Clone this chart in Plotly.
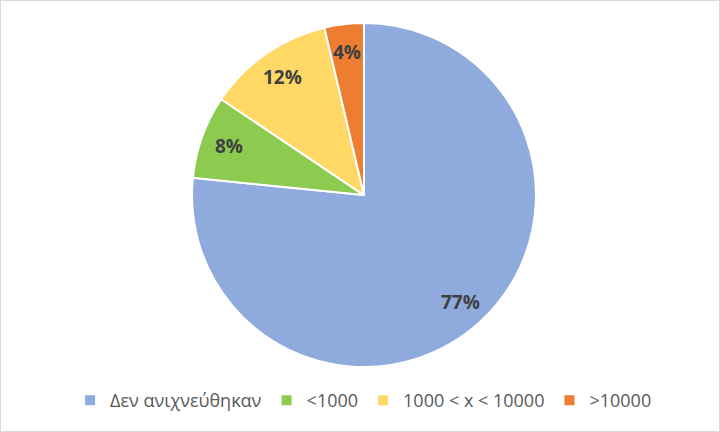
import math
import plotly.graph_objects as go

labels = ["Δεν ανιχνεύθηκαν", "<1000", "1000 < x < 10000", ">10000"]
values = [76.6, 7.8, 11.9, 3.7]
pct_text = ["77%", "8%", "12%", "4%"]
colors = ["#8FAADC", "#8CCB4F", "#FFD865", "#ED7D31"]

W, H = 720, 432
dom_x = [0.2667, 0.7444]
dom_y = [0.150, 0.947]
label_r = 0.835  # fraction of radius where data labels sit

fig = go.Figure(go.Pie(
    labels=labels,
    values=values,
    sort=False,
    direction="clockwise",
    rotation=0,
    marker=dict(colors=colors, line=dict(color="white", width=2)),
    textinfo="none",
    domain=dict(x=dom_x, y=dom_y),
    hoverinfo="label+percent",
))

# data labels placed at the slice mid-angles (computed from the values)
cx = (dom_x[0] + dom_x[1]) / 2 * W
cy = (dom_y[0] + dom_y[1]) / 2 * H
R = min((dom_x[1] - dom_x[0]) * W, (dom_y[1] - dom_y[0]) * H) / 2
total = sum(values)
cum = 0.0
annotations = []
for v, t in zip(values, pct_text):
    mid = (cum + v / 2) / total * 2 * math.pi
    cum += v
    px = cx + label_r * R * math.sin(mid)
    py = cy + label_r * R * math.cos(mid)
    annotations.append(dict(
        x=px / W, y=py / H, xref="paper", yref="paper",
        text=t, showarrow=False, xanchor="center", yanchor="middle",
        font=dict(family="Open Sans, Liberation Sans, sans-serif", size=19,
                  color="#404040", weight="bold"),
    ))

fig.update_layout(
    width=W, height=H,
    margin=dict(l=0, r=0, t=0, b=0),
    paper_bgcolor="white",
    showlegend=True,
    legend=dict(
        orientation="h",
        x=0.505, xanchor="center",
        y=0.073, yanchor="middle",
        font=dict(family="Open Sans, Liberation Sans, sans-serif", size=18, color="#595959"),
        itemwidth=30,
        traceorder="normal",
    ),
    annotations=annotations,
    shapes=[dict(type="rect", xref="paper", yref="paper", x0=0, y0=0, x1=1, y1=1,
                 line=dict(color="#D9D9D9", width=2))],
)

fig.write_html("out.html", config={"displayModeBar": False},
               post_script="document.body.style.margin='0';")
